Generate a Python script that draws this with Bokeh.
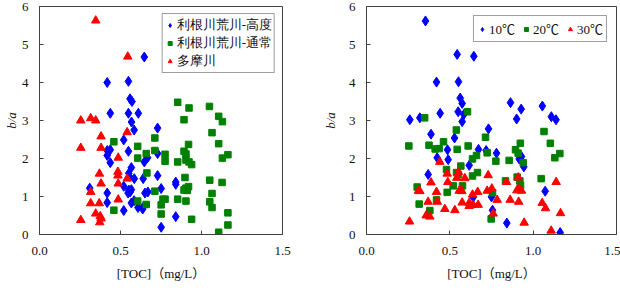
from bokeh.plotting import figure
from bokeh.layouts import row
from bokeh.models import Range1d, FixedTicker, NumeralTickFormatter
from bokeh.embed import file_html
from bokeh.resources import INLINE

# ---- data: b/a ratio against TOC (mg/L) ----
# grouped by river
koudo_toc = [0.647, 0.418, 0.549, 0.559, 0.571, 0.437, 0.549, 0.610, 0.568, 0.584, 0.729, 0.520,
             0.418, 0.437, 0.549, 0.418, 0.729, 0.667, 0.437, 0.567, 0.647, 0.729, 0.551, 0.555,
             0.585, 0.640, 0.520, 0.310, 0.418, 0.551, 0.567, 0.560, 0.547, 0.651, 0.669, 0.751,
             0.841, 0.841, 0.418, 0.567, 0.584, 0.520, 0.608, 0.640, 0.637, 0.841, 0.751]
koudo_ba = [4.67, 4.00, 4.03, 3.57, 3.50, 3.19, 3.19, 3.19, 2.96, 2.75, 2.80, 2.49,
            2.21, 2.23, 2.19, 2.08, 2.13, 2.02, 1.89, 1.76, 1.91, 1.55, 1.61, 1.53,
            1.47, 1.47, 1.27, 1.22, 1.09, 1.17, 1.18, 1.12, 1.09, 1.09, 1.12, 1.21,
            1.38, 1.32, 0.84, 0.83, 0.89, 0.63, 0.71, 0.72, 0.67, 0.47, 0.19]

tsujou_toc = [0.853, 0.923, 1.049, 1.106, 1.129, 0.892, 1.065, 0.712, 0.459, 0.606, 0.920, 1.106,
              0.659, 0.712, 0.775, 0.892, 0.904, 0.606, 1.163, 1.129, 0.775, 0.853, 0.904, 0.923,
              0.939, 0.663, 0.898, 1.051, 1.127, 0.712, 0.892, 0.904, 0.920, 0.912, 1.065, 0.606,
              0.659, 0.762, 0.775, 0.751, 0.853, 0.904, 1.051, 1.065, 0.459, 0.751, 0.939, 1.163,
              1.163, 1.106]
tsujou_ba = [3.48, 3.33, 3.37, 3.11, 2.97, 3.02, 2.68, 2.54, 2.44, 2.32, 2.37, 2.39,
             2.13, 2.21, 2.11, 2.19, 2.12, 2.01, 2.10, 2.01, 1.93, 1.91, 1.96, 1.91,
             1.84, 1.62, 1.50, 1.43, 1.37, 1.14, 1.17, 1.22, 1.26, 1.16, 1.08, 0.88,
             0.79, 0.93, 0.93, 0.78, 0.93, 0.88, 0.86, 0.71, 0.64, 0.54, 0.40, 0.57,
             0.25, 0.06]

tama_toc = [0.347, 0.545, 0.255, 0.316, 0.347, 0.380, 0.541, 0.255, 0.380, 0.486, 0.370, 0.484,
            0.484, 0.380, 0.486, 0.541, 0.316, 0.316, 0.369, 0.486, 0.255, 0.347, 0.375, 0.380,
            0.372]
tama_ba = [5.63, 4.68, 3.00, 3.06, 3.00, 2.58, 2.69, 2.28, 2.28, 2.02, 1.60, 1.65,
           1.55, 1.34, 1.34, 1.47, 1.12, 0.82, 0.82, 0.92, 0.38, 0.55, 0.48, 0.42,
           0.32]

# grouped by water temperature
t10_toc = [0.354, 0.544, 0.644, 0.420, 0.552, 0.562, 0.574, 0.550, 0.584, 0.574, 0.442, 0.260,
           0.320, 0.864, 0.928, 1.055, 0.901, 1.109, 1.137, 0.732, 0.387, 0.528, 0.486, 0.672,
           0.718, 0.780, 0.424, 0.490, 0.916, 0.930, 0.944, 0.616, 0.370, 1.072, 0.640, 0.750,
           0.756, 0.842, 1.162]
t10_ba = [5.62, 4.74, 4.69, 4.01, 4.02, 3.59, 3.45, 3.23, 3.16, 2.97, 3.19, 3.02,
          3.07, 3.47, 3.30, 3.38, 3.04, 3.10, 3.02, 2.78, 2.64, 2.54, 2.23, 2.24,
          2.21, 2.14, 2.02, 1.97, 1.99, 2.05, 1.78, 1.82, 1.58, 1.14, 0.98, 0.99,
          0.64, 0.30, 0.05]

t20_toc = [0.349, 0.606, 0.539, 0.714, 1.065, 0.254, 0.375, 0.462, 0.610, 0.923, 1.103, 0.412,
           0.436, 0.544, 0.894, 0.724, 0.776, 0.636, 0.660, 0.910, 1.160, 1.130, 0.856, 0.940,
           0.566, 0.480, 0.540, 0.550, 0.666, 0.636, 0.904, 1.048, 0.834, 0.520, 0.576, 0.920,
           0.924, 0.304, 0.484, 0.756, 0.420, 0.316, 0.380, 0.748]
t20_ba = [3.07, 3.23, 2.75, 2.56, 2.71, 2.33, 2.35, 2.44, 2.33, 2.40, 2.40, 2.25,
          2.26, 2.24, 2.23, 2.15, 1.93, 1.99, 2.08, 2.14, 2.13, 2.02, 1.95, 1.89,
          1.80, 1.71, 1.63, 1.58, 1.63, 1.54, 1.51, 1.47, 1.41, 1.28, 1.28, 1.41,
          1.29, 1.25, 1.11, 1.10, 0.91, 0.80, 0.63, 0.41]

t30_toc = [0.440, 0.484, 0.552, 0.488, 0.542, 0.590, 0.387, 0.730, 0.840, 0.910, 1.138, 0.312,
           0.320, 0.420, 0.556, 0.566, 0.572, 0.636, 0.667, 0.724, 0.752, 0.902, 0.916, 0.930,
           0.370, 0.425, 0.574, 0.616, 0.616, 0.640, 0.670, 0.784, 0.862, 0.913, 1.054, 1.074,
           0.530, 0.470, 0.358, 0.380, 0.760, 1.164, 0.258, 0.946, 1.108]
t30_ba = [1.91, 1.60, 1.64, 1.38, 1.49, 1.48, 1.37, 1.56, 1.38, 1.50, 1.38, 1.15,
          1.14, 1.12, 1.15, 1.18, 1.14, 1.05, 1.12, 1.15, 1.21, 1.16, 1.20, 1.15,
          0.86, 0.86, 0.84, 0.83, 0.75, 0.78, 0.78, 0.91, 0.91, 0.86, 0.83, 0.69,
          0.64, 0.67, 0.50, 0.47, 0.55, 0.56, 0.34, 0.31, 0.10]

x_ticks = [0.0, 0.5, 1.0, 1.5]
y_ticks = [0, 1, 2, 3, 4, 5, 6]

river_labels = ["利根川荒川-高度", "利根川荒川-通常", "多摩川"]
temp_labels = ["10℃", "20℃", "30℃"]
x_title = "[TOC]（mg/L）"
y_title = "b/a"

BLUE, GREEN, RED = "#0000ff", "#008000", "#ff0000"
FRAME = "#404040"
SERIF = "'Liberation Serif'"
SERIF_CJK = "'Liberation Serif', 'Noto Sans CJK JP'"


def panel(border_left, border_right, series, labels, horizontal, ylab_standoff):
    p = figure(width=310, height=290, x_range=Range1d(0, 1.5), y_range=Range1d(0, 6),
               output_backend="svg", toolbar_location=None,
               min_border_left=border_left, min_border_right=border_right,
               min_border_top=6, min_border_bottom=56)
    p.grid.visible = False
    p.outline_line_color = FRAME
    p.outline_line_width = 1
    p.background_fill_color = "white"
    p.border_fill_color = "white"

    for ax in (p.xaxis[0], p.yaxis[0]):
        ax.axis_line_color = FRAME
        ax.major_tick_in = 4
        ax.major_tick_out = 0
        ax.major_tick_line_color = FRAME
        ax.minor_tick_line_color = None
        ax.major_label_text_font = SERIF
        ax.major_label_text_font_size = "13px"
        ax.major_label_text_color = "#111111"
        ax.axis_label_text_color = "#111111"
        ax.axis_label_text_font_size = "13px"
    p.xaxis.ticker = FixedTicker(ticks=x_ticks)
    p.xaxis.formatter = NumeralTickFormatter(format="0.0")
    p.xaxis.major_label_standoff = 12
    p.xaxis.axis_label = x_title
    p.xaxis.axis_label_text_font = SERIF_CJK
    p.xaxis.axis_label_text_font_style = "normal"
    p.xaxis.axis_label_standoff = 8

    p.yaxis.ticker = FixedTicker(ticks=y_ticks)
    p.yaxis.major_label_standoff = 11
    p.yaxis.axis_label = y_title
    p.yaxis.axis_label_text_font = SERIF
    p.yaxis.axis_label_text_font_style = "italic"
    p.yaxis.axis_label_standoff = ylab_standoff

    markers = [("diamond", 10, BLUE), ("square", 6.5, GREEN), ("triangle", 8.5, RED)]
    for (xs, ys), (mk, sz, col), lab in zip(series, markers, labels):
        p.scatter(xs, ys, marker=mk, size=sz, fill_color=col, line_color=col,
                  legend_label=lab)

    lg = p.legend[0]
    lg.border_line_color = FRAME
    lg.border_line_width = 1
    lg.background_fill_alpha = 1
    lg.location = "top_right"
    lg.label_text_color = "#111111"
    if horizontal:
        lg.label_text_font = SERIF_CJK
        lg.orientation = "horizontal"
        lg.label_text_font_size = "13px"
        lg.padding = 3
        lg.spacing = 6
        lg.glyph_width = 10
        lg.glyph_height = 16
        lg.label_height = 16
        lg.label_standoff = 2
        lg.margin = 9
    else:
        lg.label_text_font = SERIF
        lg.label_text_font_size = "13px"
        lg.label_text_line_height = 1.0
        lg.padding = 2
        lg.spacing = -4
        lg.glyph_width = 10
        lg.glyph_height = 12
        lg.label_height = 12
        lg.label_standoff = 2
        lg.margin = 7
    return p


left = panel(36, 28,
             [(koudo_toc, koudo_ba), (tsujou_toc, tsujou_ba), (tama_toc, tama_ba)],
             river_labels, horizontal=False, ylab_standoff=0)
right = panel(56, 4,
              [(t10_toc, t10_ba), (t20_toc, t20_ba), (t30_toc, t30_ba)],
              temp_labels, horizontal=True, ylab_standoff=8)

layout = row(left, right, spacing=0)
open("out.html", "w").write(file_html(layout, INLINE))
